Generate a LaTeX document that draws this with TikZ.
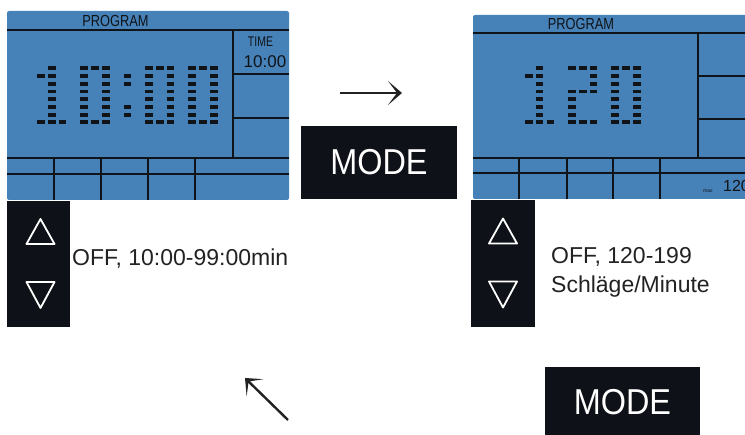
\documentclass[tikz,border=0pt]{standalone}
\usepackage{graphicx}
\usepackage{fontspec}
\setmainfont{Liberation Sans}
\usetikzlibrary{arrows.meta,positioning}
\definecolor{lcdblue}{HTML}{4681B8}
\definecolor{lcdink}{HTML}{101317}
\definecolor{keyblack}{HTML}{0E1218}
\definecolor{textgray}{HTML}{222222}

\newcommand{\dotdigit}[3]{%
  \foreach \dcol/\drow in #3 {\fill[lcdink] ({#1+\dcol*10.8-3.8},{#2+\drow*7.72-1.9}) rectangle ++(7.6,3.8);}}
\def\digzero{0/0,1/0,2/0,0/1,2/1,0/2,2/2,0/3,2/3,0/4,2/4,0/5,2/5,0/6,2/6,0/7,1/7,2/7}
\def\digone{1/0,0/1,1/1,1/2,1/3,1/4,1/5,1/6,0/7,1/7,2/7}
\def\digtwo{0/0,1/0,2/0,2/1,2/2,0/3,1/3,2/3,0/4,0/5,0/6,0/7,1/7,2/7}
\def\digcolon{0/1,0/2,0/5,0/6}

\begin{document}
\begin{tikzpicture}[x=1pt,y=-1pt,
  lcd/.style={fill=lcdblue, rounded corners=2pt, inner sep=0pt},
  lcdline/.style={draw=lcdink, line width=1.6pt},
  lcdlabel/.style={text=lcdink, inner sep=0pt, font=\fontsize{16}{16}\selectfont},
  keypad/.style={fill=keyblack, inner sep=0pt},
  keytri/.style={draw=white, line width=1.8pt, line join=round},
  modekey/.style={fill=keyblack, text=white, inner sep=0pt, font=\fontsize{36}{36}\selectfont},
  desc/.style={text=textgray, inner sep=0pt, align=left, font=\fontsize{23}{29}\selectfont},
  flow/.style={draw=textgray, line width=2.4pt,
    -{Stealth[length=14pt,width=24pt,inset=9pt]}}
]
\useasboundingbox (0,0) rectangle (745,435);
\clip (0,0) rectangle (745,435);

% time screen
\node[lcd, minimum width=282pt, minimum height=189pt] (lcdtime) at (148,105.5) {};
\draw[lcdline] (7,30) -- (289,30);
\draw[lcdline] (233,30) -- (233,158);
\draw[lcdline] (233,74) -- (289,74) (233,118) -- (289,118);
\draw[lcdline] (7,158) -- (289,158) (7,174) -- (289,174);
\foreach \x in {54,101,148,195} \draw[lcdline] (\x,158) -- (\x,200);
\dotdigit{41}{68.3}{\digone}
\dotdigit{84.2}{68.3}{\digzero}
\dotdigit{127.4}{68.3}{\digcolon}
\dotdigit{149}{68.3}{\digzero}
\dotdigit{192.2}{68.3}{\digzero}
\node[lcdlabel] (progA) at (115.5,21) {\scalebox{0.8}[1]{PROGRAM}};
\node[lcdlabel, font=\fontsize{14}{14}\selectfont] (timelbl) at (260.5,42) {\scalebox{0.75}[1]{TIME}};
\node[lcdlabel, font=\fontsize{17}{17}\selectfont] (timeval) at (265,61.5) {10:00};

% pulse screen
\node[lcd, minimum width=287pt, minimum height=184pt] (lcdpulse) at (616.5,107) {};
\draw[lcdline] (473,33) -- (745,33);
\draw[lcdline] (698,33) -- (698,158);
\draw[lcdline] (698,76) -- (745,76) (698,119) -- (745,119);
\draw[lcdline] (473,158) -- (745,158) (473,173) -- (745,173);
\foreach \x in {519,567,613,660} \draw[lcdline] (\x,158) -- (\x,199);
\dotdigit{528.7}{68.3}{\digone}
\dotdigit{571.9}{68.3}{\digtwo}
\dotdigit{615.1}{68.3}{\digzero}
\node[lcdlabel] (progB) at (581,23.5) {\scalebox{0.8}[1]{PROGRAM}};
\node[lcdlabel, font=\fontsize{5}{5}\selectfont, anchor=base west] (maxlbl) at (703,193) {max};
\node[lcdlabel, anchor=base west] (maxval) at (723,192) {120};

% keys
\node[keypad, minimum width=63pt, minimum height=126pt] (keysA) at (38.5,264) {};
\draw[keytri] ([shift={(-12,-20)}]keysA.center) -- ++(14,-25) -- ++(14,25) -- cycle;
\draw[keytri] ([shift={(-12,18)}]keysA.center) -- ++(28,0) -- ++(-14,26) -- cycle;
\node[keypad, minimum width=64pt, minimum height=127pt] (keysB) at (503,263.5) {};
\draw[keytri] ([shift={(-14,-20)}]keysB.center) -- ++(14,-25) -- ++(14,25) -- cycle;
\draw[keytri] ([shift={(-14,18)}]keysB.center) -- ++(28,0) -- ++(-14,26) -- cycle;

\node[desc, anchor=west] (rangeA) at (72,259) {OFF, 10:00-99:00min};
\node[desc, anchor=west] (rangeB) at (551,272) {OFF, 120-199\\Schläge/Minute};

\node[modekey, minimum width=156pt, minimum height=73pt] (modeA) at (379,162.5) {\scalebox{0.9}[1]{MODE}};
\node[modekey, minimum width=155pt, minimum height=70pt] (modeB) at (622.5,402) {\scalebox{0.9}[1]{MODE}};

\coordinate (fwdtail) at (340,93);
\coordinate (fwdtip) at (402,93);
\coordinate (backtail) at (288,420);
\coordinate (backtip) at (245,378);
\draw[flow] (fwdtail) -- (fwdtip);
\draw[flow] (backtail) -- (backtip);
\end{tikzpicture}
\end{document}
